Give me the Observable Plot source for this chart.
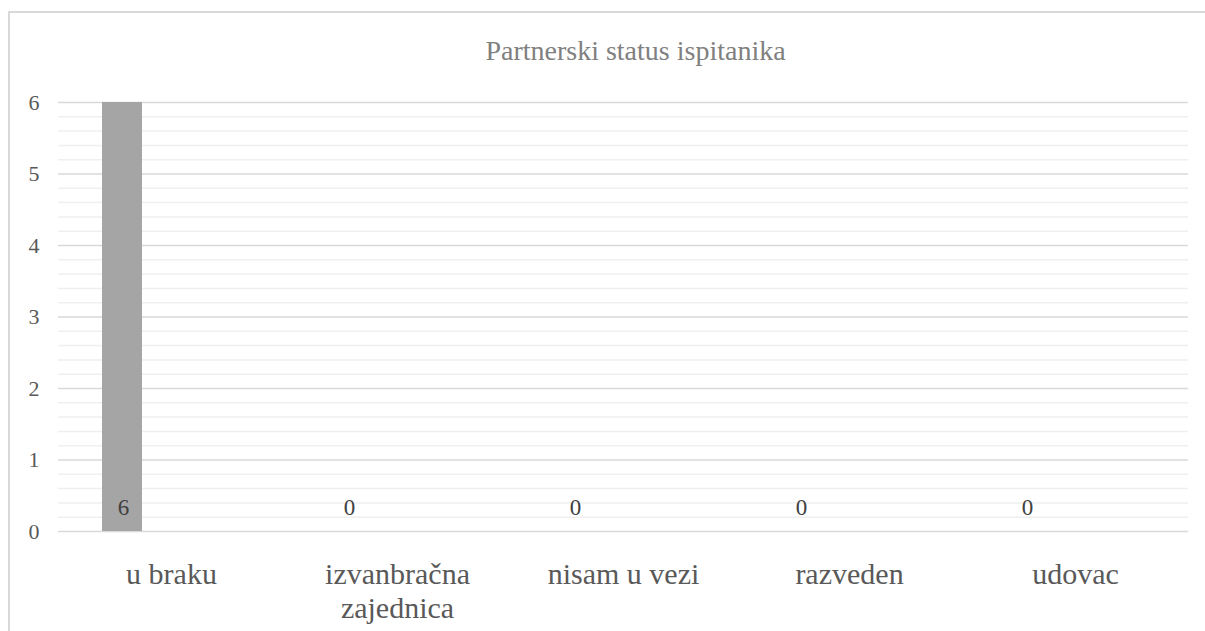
<!DOCTYPE html>
<html><head><meta charset="utf-8">
<script src="https://cdn.jsdelivr.net/npm/d3@7"></script>
<script src="https://cdn.jsdelivr.net/npm/@observablehq/plot@0.6"></script>
<style>
html,body{margin:0;padding:0;background:#fff;overflow:hidden;}
#wrap{position:relative;width:1205px;height:631px;overflow:hidden;font-family:"Liberation Serif",Tinos,"Times New Roman",Times,"DejaVu Serif",serif;}
#frame{position:absolute;left:8px;top:11px;width:1300px;height:700px;border-left:2px solid #d9d9d9;border-top:2px solid #d9d9d9;pointer-events:none;}
#title{box-sizing:border-box;height:80px;padding-top:35px;padding-left:66px;text-align:center;font-size:28px;color:#808080;line-height:1.15;white-space:nowrap;}
#chart svg{display:block;}
</style></head>
<body><div id="wrap"><div id="frame"></div><div id="title">Partnerski status ispitanika</div><div id="chart"></div></div>
<script>
const categories = ["u braku", "izvanbračna\nzajednica", "nisam u vezi", "razveden", "udovac"];
const values = [6, 0, 0, 0, 0];
const yTicks = [0, 1, 2, 3, 4, 5, 6];
const minorTicks = [0.2,0.4,0.6,0.8,1.2,1.4,1.6,1.8,2.2,2.4,2.6,2.8,3.2,3.4,3.6,3.8,4.2,4.4,4.6,4.8,5.2,5.4,5.6,5.8];

const data = categories.map((c, i) => ({category: c, value: values[i]}));
const serif = '"Liberation Serif", Tinos, "Times New Roman", Times, "DejaVu Serif", serif';

const chart = Plot.plot({
  width: 1205, height: 551,
  marginTop: 22, marginBottom: 100, marginLeft: 58, marginRight: 17,
  style: {fontFamily: serif, background: "transparent", overflow: "visible"},
  x: {domain: categories, padding: 0, label: null},
  y: {domain: [0, 6], label: null},
  marks: [
    Plot.gridY(minorTicks, {stroke: "#efefef", strokeOpacity: 1, strokeWidth: 1.5}),
    Plot.gridY(yTicks, {stroke: "#d9d9d9", strokeOpacity: 1, strokeWidth: 1.5}),
    Plot.axisY(yTicks, {tickSize: 0, tickPadding: 19, fontSize: 22, color: "#595959", tickFormat: d3.format("d"), label: null}),
    Plot.axisX({tickSize: 0, tickPadding: 28, fontSize: 30, color: "#595959", lineHeight: 1.15, label: null}),
    Plot.barY(data, {x: "category", y: "value", fill: "#a5a5a5", insetLeft: 44, insetRight: 142}),
    Plot.text(data, {x: "category", y: 0, text: d => String(d.value), dx: -48, dy: -17, lineAnchor: "bottom", fontSize: 23, fill: "#404040"})
  ]
});
document.getElementById("chart").appendChild(chart);
</script>
</body></html>
